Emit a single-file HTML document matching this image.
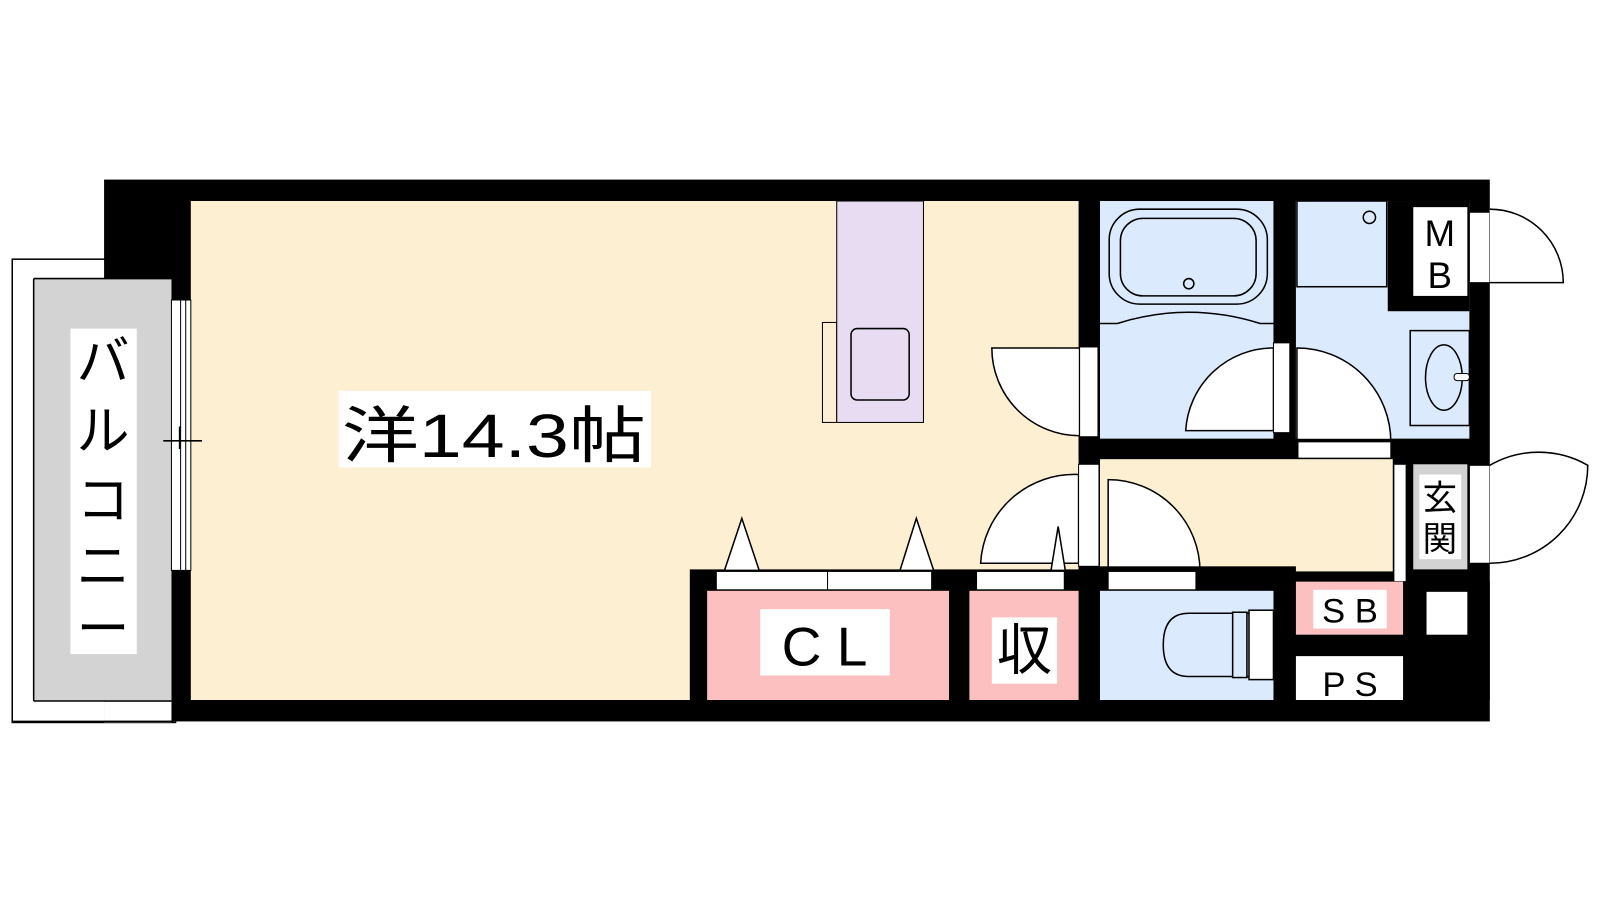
<!DOCTYPE html>
<html><head><meta charset="utf-8"><style>
html,body{margin:0;padding:0;background:#fff;width:1600px;height:900px;overflow:hidden}
svg text{font-family:"Liberation Sans","Noto Sans CJK JP",sans-serif;fill:#000}
</style></head><body>
<svg width="1600" height="900" viewBox="0 0 1568 882" preserveAspectRatio="none" xmlns="http://www.w3.org/2000/svg">
<!-- balcony -->
<rect x="12" y="254" width="160" height="454" fill="#fff" stroke="#000" stroke-width="1.5"/>
<!-- outer black -->
<rect x="102" y="176" width="1358" height="531" fill="#000"/>
<rect x="102" y="273" width="66" height="435" fill="#d3d3d3"/>
<rect x="33" y="273" width="135" height="414" fill="#d3d3d3"/>
<line x1="33" y1="273" x2="33" y2="687" stroke="#000" stroke-width="1.5"/>
<line x1="33" y1="273" x2="168" y2="273" stroke="#000" stroke-width="1.5"/>
<line x1="33" y1="687" x2="168" y2="687" stroke="#000" stroke-width="1.5"/>
<rect x="102" y="688" width="66" height="18" fill="#fff"/>
<line x1="12" y1="707" x2="170" y2="707" stroke="#000" stroke-width="1.5"/>
<rect x="69" y="322" width="65" height="319" fill="#fff"/>
<text x="101" y="372" font-size="52" text-anchor="middle">バ</text>
<text x="101" y="440" font-size="52" text-anchor="middle">ル</text>
<text x="101" y="508" font-size="52" text-anchor="middle">コ</text>
<text x="101" y="573" font-size="52" text-anchor="middle">ニ</text>
<text x="101" y="634" font-size="52" text-anchor="middle">ー</text>
<!-- main room -->
<rect x="187" y="197" width="870" height="489" fill="#fdf0d2"/>
<rect x="676" y="558" width="381" height="128" fill="#000"/>
<!-- window -->
<rect x="168" y="294" width="19" height="265" fill="#fff" stroke="#000" stroke-width="1"/>
<line x1="177" y1="294" x2="177" y2="559" stroke="#000"/>
<line x1="182" y1="294" x2="182" y2="559" stroke="#000"/>
<line x1="160" y1="432" x2="198" y2="432" stroke="#000" stroke-width="1.5"/>
<line x1="176" y1="418" x2="176" y2="440" stroke="#000" stroke-width="1.5"/>
<rect x="332" y="383" width="306" height="75" fill="#fff"/>
<text x="335" y="448" font-size="60" textLength="298" lengthAdjust="spacingAndGlyphs">洋14.3帖</text>
<!-- kitchen -->
<rect x="806" y="316" width="14" height="98" fill="#fdf0d2" stroke="#000"/>
<rect x="820" y="197" width="85" height="217" fill="#e8dcf3" stroke="#000"/>
<rect x="834" y="322" width="57" height="70" rx="6" fill="#e8dcf3" stroke="#000" stroke-width="1.5"/>
<!-- door to bath from room -->
<path d="M1058,341 L972,341 A86,86 0 0 0 1058,427 Z" fill="#fff" stroke="#000" stroke-width="1.5"/>
<rect x="1058" y="340" width="18" height="88" fill="#fff" stroke="#000"/>
<!-- bathroom -->
<rect x="1078" y="197" width="170" height="233" fill="#dbeafd"/>
<rect x="1087" y="205" width="155" height="93" rx="30" fill="none" stroke="#000" stroke-width="1.5"/>
<rect x="1098" y="214" width="133" height="76" rx="22" fill="none" stroke="#000" stroke-width="1.5"/>
<circle cx="1165" cy="278" r="5" fill="none" stroke="#000" stroke-width="1.5"/>
<path d="M1078,317 L1095,317 Q1165,295 1235,317 L1248,317" fill="none" stroke="#000" stroke-width="1.5"/>
<rect x="1248" y="197" width="22" height="233" fill="#000"/>
<!-- washroom -->
<rect x="1270" y="197" width="170" height="233" fill="#dbeafd"/>
<rect x="1271" y="197" width="88" height="84" fill="#dbeafd" stroke="#000" stroke-width="1.5"/>
<circle cx="1342" cy="213" r="6" fill="none" stroke="#000" stroke-width="1.5"/>
<rect x="1360" y="197" width="80" height="108" fill="#000"/>
<rect x="1385" y="203" width="53" height="87" fill="#fff"/>
<text x="1411" y="241" font-size="36" text-anchor="middle">M</text>
<text x="1411" y="282" font-size="36" text-anchor="middle">B</text>
<rect x="1382" y="324" width="58" height="93" fill="#dbeafd" stroke="#000" stroke-width="1.5"/>
<ellipse cx="1415" cy="370" rx="18" ry="32" fill="none" stroke="#000" stroke-width="1.5"/>
<rect x="1425" y="366" width="15" height="7" rx="3" fill="#fff" stroke="#000"/>
<!-- bath door -->
<path d="M1248,341 A86,86 0 0 0 1162,422 L1248,422 Z" fill="#fff" stroke="#000" stroke-width="1.5"/>
<rect x="1248" y="336" width="16" height="88" fill="#fff" stroke="#000"/>
<path d="M1271,341 A92,92 0 0 1 1363,433 L1271,433 Z" fill="#fff" stroke="#000" stroke-width="1.5"/>
<!-- horizontal wall -->
<rect x="1057" y="430" width="383" height="20" fill="#000"/>
<rect x="1272" y="433" width="91" height="16" fill="#fff" stroke="#000"/>
<!-- hallway -->
<rect x="1078" y="450" width="287" height="110" fill="#fdf0d2"/>
<rect x="1365" y="450" width="20" height="120" fill="#000"/>
<rect x="1366" y="455" width="12" height="115" fill="#fff" stroke="#000"/>
<rect x="1385" y="455" width="53" height="103" fill="#d3d3d3"/>
<rect x="1391" y="465" width="41" height="83" fill="#fff"/>
<text x="1411" y="500" font-size="34" text-anchor="middle">玄</text>
<text x="1411" y="540" font-size="34" text-anchor="middle">関</text>
<!-- entrance door -->
<rect x="1440" y="456" width="20" height="96" fill="#fff" stroke="#000"/>
<path d="M1460,456 A96,96 0 0 1 1556,456 A96,96 0 0 1 1460,552" fill="#fff" stroke="#000" stroke-width="1.5"/>
<!-- MB door -->
<rect x="1440" y="208" width="20" height="69" fill="#fff" stroke="#000"/>
<path d="M1460,205 A72,72 0 0 1 1532,277 L1460,277" fill="#fff" stroke="#000" stroke-width="1.5"/>
<!-- doors near hallway -->
<path d="M1057,465 A92,92 0 0 0 961,552 L1057,552 Z" fill="#fff" stroke="#000" stroke-width="1.5"/>
<rect x="1057" y="455" width="20" height="100" fill="#fff" stroke="#000"/>
<path d="M1086,470 A90,90 0 0 1 1176,560 L1086,560 Z" fill="#fff" stroke="#000" stroke-width="1.5"/>
<!-- bottom row -->
<rect x="1057" y="555" width="213" height="131" fill="#000"/>
<rect x="693" y="579" width="237" height="107" fill="#fcc0c0"/>
<rect x="950" y="579" width="107" height="107" fill="#fcc0c0"/>
<rect x="1078" y="579" width="170" height="107" fill="#dbeafd"/>
<rect x="1270" y="570" width="190" height="116" fill="#000"/>
<rect x="1270" y="570" width="105" height="52" fill="#fcc0c0"/>
<rect x="1287" y="578" width="72" height="38" fill="#fff"/>
<text x="1323" y="610" font-size="34" text-anchor="middle">S B</text>
<rect x="1270" y="643" width="105" height="43" fill="#fff"/>
<text x="1323" y="682" font-size="34" text-anchor="middle">P S</text>
<rect x="1398" y="580" width="40" height="42" fill="#fff"/>
<!-- sliding doors -->
<rect x="702" y="560" width="211" height="18" fill="#fff" stroke="#000"/>
<line x1="811" y1="560" x2="811" y2="578" stroke="#000"/>
<rect x="957" y="560" width="86" height="18" fill="#fff" stroke="#000"/>
<rect x="1086" y="560" width="86" height="18" fill="#fff" stroke="#000"/>
<path d="M710,559 L727,508 L744,559 Z" fill="#fff" stroke="#000" stroke-width="1.5"/>
<path d="M882,559 L898,508 L915,559 Z" fill="#fff" stroke="#000" stroke-width="1.5"/>
<path d="M1030,559 L1037,516 L1044,559 Z" fill="#fff" stroke="#000" stroke-width="1.5"/>
<rect x="745" y="597" width="127" height="65" fill="#fff"/>
<text x="808" y="652" font-size="54" text-anchor="middle">C L</text>
<rect x="972" y="605" width="64" height="65" fill="#fff"/>
<text x="1004" y="656" font-size="54" text-anchor="middle">収</text>
<!-- toilet -->
<path d="M1226,601 L1165,601 Q1140,601 1140,632 Q1140,663 1165,663 L1226,663" fill="none" stroke="#000" stroke-width="1.5"/>
<rect x="1208" y="600" width="14" height="64" fill="#dbeafd" stroke="#000" stroke-width="1.5"/>
<rect x="1224" y="598" width="24" height="68" fill="#fff" stroke="#000" stroke-width="1.5"/>
</svg>
</body></html>
